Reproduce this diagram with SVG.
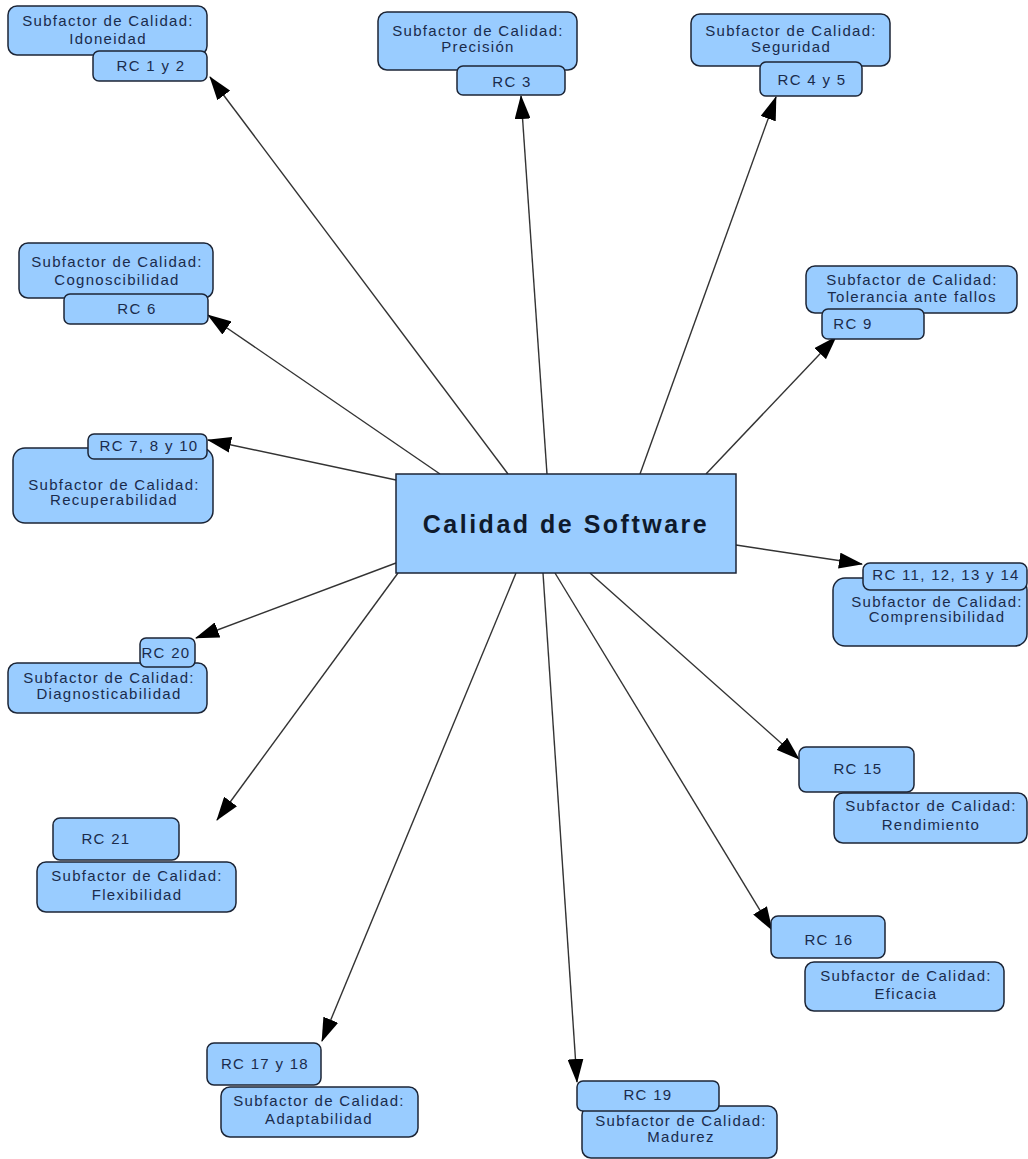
<svg xmlns="http://www.w3.org/2000/svg" width="1028" height="1159" viewBox="0 0 1028 1159">
<style>
.b{fill:#99ccff;stroke:#1c2536;stroke-width:1.5}
.t{font-family:"Liberation Sans",Arial,sans-serif;font-size:15px;letter-spacing:1.3px;fill:#1a2b4c;text-anchor:middle}
.c{stroke:#333;stroke-width:1.4;fill:none;marker-end:url(#ah)}
</style>
<defs>
<marker id="ah" viewBox="0 0 24 16" refX="23" refY="8" markerWidth="24" markerHeight="16" markerUnits="userSpaceOnUse" orient="auto">
<path d="M0,0 L24,8 L0,16 z" fill="#000"/>
</marker>
</defs>
<rect width="1028" height="1159" fill="#fff"/>
<g id="connectors">
<line class="c" x1="508" y1="474" x2="210" y2="77"/>
<line class="c" x1="547" y1="474" x2="521" y2="96"/>
<line class="c" x1="640" y1="474" x2="776" y2="97"/>
<line class="c" x1="440" y1="474" x2="208" y2="315"/>
<line class="c" x1="706" y1="474" x2="836" y2="337"/>
<line class="c" x1="396" y1="480" x2="208" y2="440"/>
<line class="c" x1="736" y1="545" x2="862" y2="564"/>
<line class="c" x1="396" y1="563" x2="196" y2="638"/>
<line class="c" x1="398" y1="573" x2="217" y2="820"/>
<line class="c" x1="516" y1="573" x2="322" y2="1041"/>
<line class="c" x1="543" y1="573" x2="577" y2="1082"/>
<line class="c" x1="555" y1="573" x2="772" y2="930"/>
<line class="c" x1="590" y1="573" x2="799" y2="759"/>
</g>
<g id="center">
<rect x="396" y="474" width="340" height="99" fill="#99ccff" stroke="#1c2536" stroke-width="1.5"/>
<text x="566" y="533" style="font-family:'Liberation Sans',Arial,sans-serif;font-size:25px;font-weight:bold;letter-spacing:2.5px;fill:#0f1a2c;text-anchor:middle">Calidad de Software</text>
</g>
<g id="idoneidad">
<rect class="b" x="8" y="6" width="199" height="49" rx="9"/>
<text class="t" x="108" y="26">Subfactor de Calidad:</text>
<text class="t" x="108" y="44">Idoneidad</text>
<rect class="b" x="93" y="51" width="114" height="30" rx="6"/>
<text class="t" x="151" y="71">RC 1 y 2</text>
</g>
<g id="precision">
<rect class="b" x="378" y="12" width="199" height="58" rx="9"/>
<text class="t" x="478" y="36">Subfactor de Calidad:</text>
<text class="t" x="478" y="52">Precisión</text>
<rect class="b" x="457" y="66" width="108" height="29" rx="6"/>
<text class="t" x="512" y="87">RC 3</text>
</g>
<g id="seguridad">
<rect class="b" x="691" y="14" width="199" height="52" rx="9"/>
<text class="t" x="791" y="36">Subfactor de Calidad:</text>
<text class="t" x="791" y="52">Seguridad</text>
<rect class="b" x="760" y="62" width="102" height="34" rx="6"/>
<text class="t" x="812" y="85">RC 4 y 5</text>
</g>
<g id="cognoscibilidad">
<rect class="b" x="19" y="243" width="194" height="55" rx="9"/>
<text class="t" x="117" y="267">Subfactor de Calidad:</text>
<text class="t" x="117" y="285">Cognoscibilidad</text>
<rect class="b" x="64" y="294" width="144" height="30" rx="6"/>
<text class="t" x="137" y="314">RC 6</text>
</g>
<g id="tolerancia">
<rect class="b" x="806" y="266" width="211" height="47" rx="9"/>
<text class="t" x="912" y="285">Subfactor de Calidad:</text>
<text class="t" x="912" y="302">Tolerancia ante fallos</text>
<rect class="b" x="822" y="309" width="102" height="30" rx="6"/>
<text class="t" x="853" y="329">RC 9</text>
</g>
<g id="recuperabilidad">
<rect class="b" x="13" y="448" width="200" height="75" rx="12"/>
<text class="t" x="114" y="490">Subfactor de Calidad:</text>
<text class="t" x="114" y="505">Recuperabilidad</text>
<rect class="b" x="88" y="434" width="119" height="25" rx="6"/>
<text class="t" x="149" y="451">RC 7, 8 y 10</text>
</g>
<g id="comprensibilidad">
<rect class="b" x="833" y="578" width="194" height="68" rx="12"/>
<text class="t" x="937" y="607">Subfactor de Calidad:</text>
<text class="t" x="937" y="622">Comprensibilidad</text>
<rect class="b" x="863" y="563" width="164" height="27" rx="7"/>
<text class="t" x="946" y="580">RC 11, 12, 13 y 14</text>
</g>
<g id="diagnosticabilidad">
<rect class="b" x="8" y="663" width="199" height="50" rx="9"/>
<text class="t" x="109" y="683">Subfactor de Calidad:</text>
<text class="t" x="109" y="699">Diagnosticabilidad</text>
<rect class="b" x="140" y="638" width="55" height="29" rx="6"/>
<text class="t" x="166" y="658">RC 20</text>
</g>
<g id="flexibilidad">
<rect class="b" x="37" y="862" width="199" height="50" rx="9"/>
<text class="t" x="137" y="881">Subfactor de Calidad:</text>
<text class="t" x="137" y="900">Flexibilidad</text>
<rect class="b" x="53" y="818" width="126" height="42" rx="7"/>
<text class="t" x="106" y="844">RC 21</text>
</g>
<g id="rendimiento">
<rect class="b" x="834" y="793" width="193" height="50" rx="9"/>
<text class="t" x="931" y="811">Subfactor de Calidad:</text>
<text class="t" x="931" y="830">Rendimiento</text>
<rect class="b" x="799" y="747" width="115" height="45" rx="7"/>
<text class="t" x="858" y="774">RC 15</text>
</g>
<g id="eficacia">
<rect class="b" x="805" y="962" width="199" height="49" rx="9"/>
<text class="t" x="906" y="981">Subfactor de Calidad:</text>
<text class="t" x="906" y="999">Eficacia</text>
<rect class="b" x="771" y="916" width="114" height="42" rx="7"/>
<text class="t" x="829" y="945">RC 16</text>
</g>
<g id="adaptabilidad">
<rect class="b" x="221" y="1087" width="197" height="50" rx="9"/>
<text class="t" x="319" y="1106">Subfactor de Calidad:</text>
<text class="t" x="319" y="1124">Adaptabilidad</text>
<rect class="b" x="207" y="1043" width="114" height="42" rx="7"/>
<text class="t" x="265" y="1069">RC 17 y 18</text>
</g>
<g id="madurez">
<rect class="b" x="582" y="1106" width="195" height="52" rx="9"/>
<text class="t" x="681" y="1126">Subfactor de Calidad:</text>
<text class="t" x="681" y="1142">Madurez</text>
<rect class="b" x="577" y="1081" width="142" height="30" rx="6"/>
<text class="t" x="648" y="1100">RC 19</text>
</g>
</svg>
